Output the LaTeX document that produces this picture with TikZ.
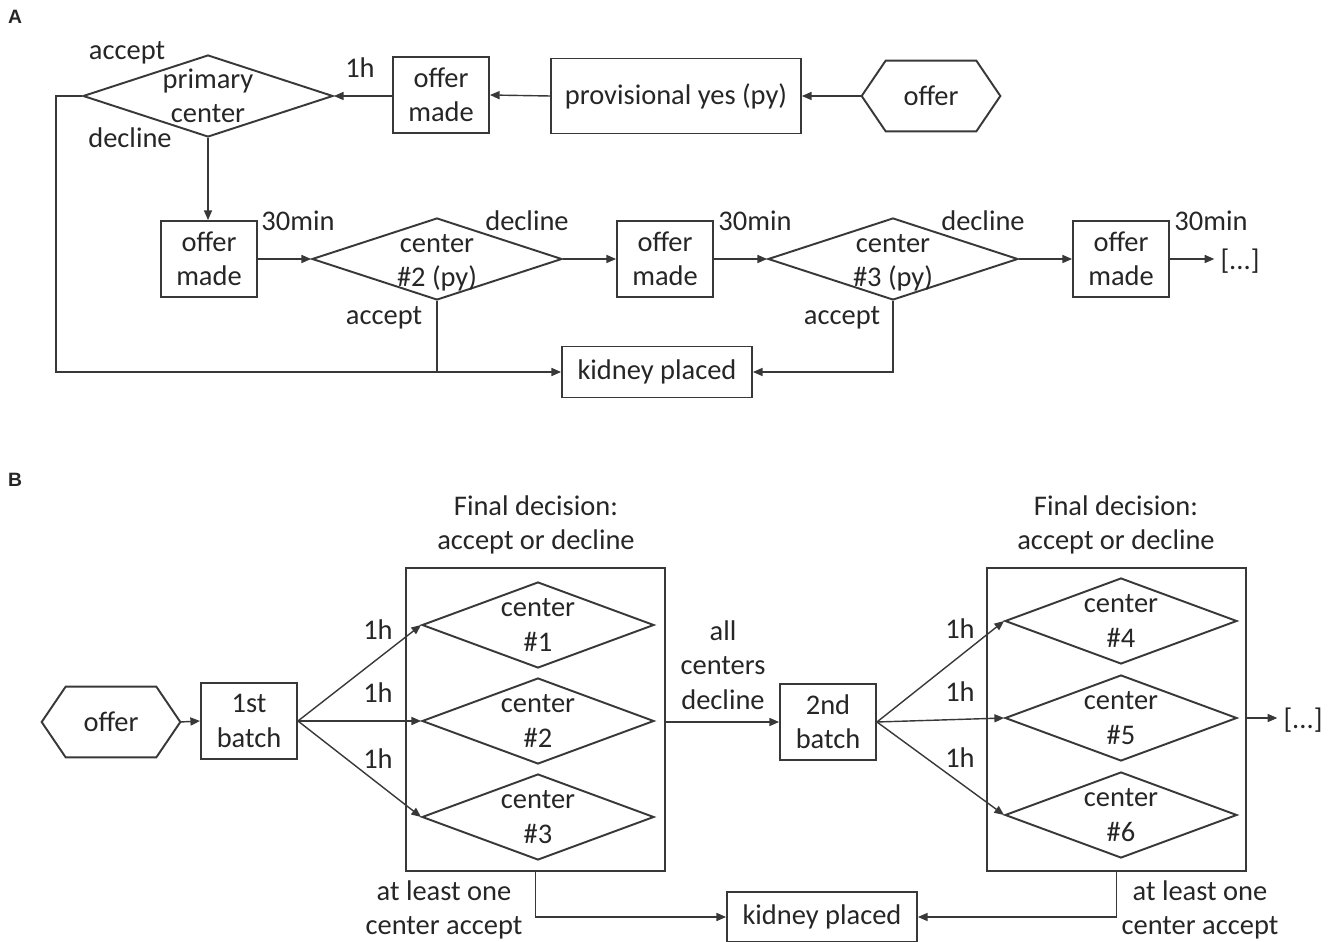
\documentclass[tikz,border=0pt]{standalone}
\usepackage{fontspec}
\setmainfont{Carlito}
\newfontfamily\panelfont{Liberation Sans}
\usepackage{xcolor}
\definecolor{lineGray}{gray}{0.22}
\definecolor{textGray}{gray}{0.15}
\usepackage{tikz}
\usetikzlibrary{arrows.meta,calc,shapes.geometric}

\begin{document}
\begin{tikzpicture}[x=0.02cm, y=-0.02cm, >={Triangle[length=5.5pt,width=4.6pt]},
  every node/.style={font=\fontsize{16.2}{19.5}\selectfont, text=textGray},
  box/.style={draw=lineGray, line width=1.1pt, align=center, inner sep=0pt},
  made/.style={box, minimum width=1.92cm, minimum height=1.52cm},
  decision/.style={draw=lineGray, line width=1.1pt, shape=diamond, inner sep=0pt},
  widedec/.style={decision, minimum width=5cm, minimum height=1.64cm},
  batchdec/.style={decision, minimum width=4.64cm, minimum height=1.72cm},
  hexbase/.style={minimum width=2.76cm, minimum height=1.4cm, inner sep=0pt},
  link/.style={draw=lineGray, line width=0.8pt},
  flow/.style={link, ->},
  tag/.style={align=center},
  panel/.style={font=\panelfont\bfseries\fontsize{11}{13}\selectfont}]
  \useasboundingbox (0,0) rectangle (1333,942);

  % ------- A: sequential offers with provisional yes -------
  \node[panel] (labA) at (15,17) {A};
  \node[hexbase] (offA) at (931,96) {offer};
  \node[box, minimum width=5cm, minimum height=1.5cm] (prov) at (676,96) {provisional yes (py)};
  \node[made] (om1) at (441,95) {offer\\made};
  \node[widedec, label={[align=center]center:{primary\\center}}] (pc) at (208,96) {};
  \node (t1h) at (360,68) {1h};
  \node (tacc) at (127,53) {accept};
  \node (tdec) at (130,138) {decline};

  \node[made] (om2) at (209,259) {offer\\made};
  \node[widedec, label={[align=center, yshift=-2.2pt]center:{center\\\#2 (py)}}] (c2) at (437,259) {};
  \node[made] (om3) at (665,259) {offer\\made};
  \node[widedec, label={[align=center, yshift=-2.2pt]center:{center\\\#3 (py)}}] (c3) at (893,259) {};
  \node[made] (om4) at (1121,259) {offer\\made};
  \node (dotsA) at (1240,261) {[...]};
  \foreach \x/\n in {298/a,755/b,1211/c}
    \node (t30\n) at (\x,221) {30min};
  \foreach \x/\n in {527/a,983/b}
    \node (tdc\n) at (\x,221) {decline};
  \foreach \x/\n in {384/a,842/b}
    \node (tac\n) at (\x,318) {accept};
  \node[box, minimum width=3.8cm, minimum height=1.02cm] (kpA) at (657,372) {kidney placed};

  \draw[flow] (offA.west) -- (prov.east);
  \draw[flow] (prov.west) -- (om1.east);
  \draw[flow] (om1.west |- pc.east) -- (pc.east);
  \draw[flow] (pc.west) -- ++(-26,0) |- (kpA.west);
  \draw[flow] (pc.south) -- (pc.south |- om2.north);
  \draw[flow] (om2.east) -- (c2.west);
  \draw[flow] (c2.east) -- (om3.west);
  \draw[flow] (om3.east) -- (c3.west);
  \draw[flow] (c3.east) -- (om4.west);
  \draw[flow] (om4.east) -- (dotsA.west |- om4.east);
  \draw[link] (c2.south) -- (c2.south |- kpA.west);
  \draw[flow] (c3.south) |- (kpA.east);

  % ------- B: batches of centers -------
  \node[panel] (labB) at (15,480) {B};
  \node[hexbase] (offB) at (111,722) {offer};
  \node[made] (b1) at (249,721) {1st\\batch};
  \node[box, minimum width=5.18cm, minimum height=6.06cm] (grp1) at (535.5,719.5) {};
  \node[tag] (fd1) at (536,525) {Final decision:\\accept or decline};
  \foreach \i/\y in {1/625,2/721,3/817}
    \node[batchdec, label={[align=center]center:{center\\\#\i}}] (d\i) at (538,\y) {};
  \foreach \i/\y in {1/630,2/693,3/759} {
    \draw[flow] (b1.east) -- (d\i.west);
    \node (h\i) at (378,\y) {1h};
  }
  \node[tag] (alldec) at (723,665) {all\\centers\\decline};
  \node[made] (b2) at (828,722) {2nd\\batch};
  \node[box, minimum width=5.18cm, minimum height=6.06cm] (grp2) at (1116.5,719.5) {};
  \node[tag] (fd2) at (1116,525) {Final decision:\\accept or decline};
  \foreach \i/\y in {4/621,5/718,6/815}
    \node[batchdec, label={[align=center]center:{center\\\#\i}}] (d\i) at (1121,\y) {};
  \foreach \i/\y in {4/629,5/692,6/758} {
    \draw[flow] (b2.east) -- (d\i.west);
    \node (h\i) at (960,\y) {1h};
  }
  \node (dotsB) at (1303,720) {[...]};
  \node[box, minimum width=3.8cm, minimum height=1.0cm] (kpB) at (822,917) {kidney placed};
  \node[tag] (least1) at (444,910) {at least one\\center accept};
  \node[tag] (least2) at (1200,910) {at least one\\center accept};

  \foreach \h in {offA,offB}
    \draw[line width=1.1pt, draw=lineGray] (\h.west) -- ($(\h.north west)+(24,0)$)
      -- ($(\h.north east)+(-24,0)$) -- (\h.east) -- ($(\h.south east)+(-24,0)$)
      -- ($(\h.south west)+(24,0)$) -- cycle;
  \draw[flow] (offB.east) -- (b1.west);
  \draw[flow] (grp1.east |- b2.west) -- (b2.west);
  \draw[flow] (grp2.east |- d5.east) -- (dotsB.west |- d5.east);
  \draw[flow] (grp1.south) |- (kpB.west);
  \draw[flow] (grp2.south) |- (kpB.east);
\end{tikzpicture}
\end{document}
